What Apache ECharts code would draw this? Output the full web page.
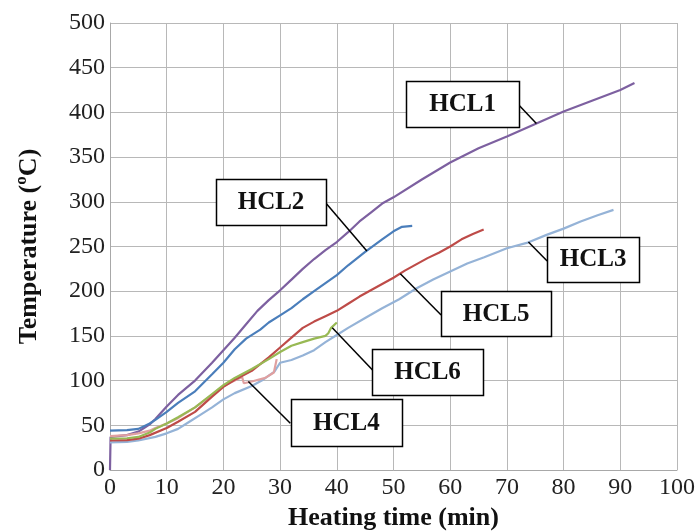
<!DOCTYPE html>
<html>
<head>
<meta charset="utf-8">
<script src="https://cdn.jsdelivr.net/npm/echarts@6/dist/echarts.min.js"></script>
<style>html,body{margin:0;padding:0;background:#fff;}#c{width:697px;height:531px;}</style>
</head>
<body>
<div id="c"></div>
<script>
const seriesNames = ['HCL1','HCL2','HCL3','HCL4','HCL5','HCL6'];
const xTicks = [0,10,20,30,40,50,60,70,80,90,100];
const yTicks = [0,50,100,150,200,250,300,350,400,450,500];

const hcl1 = [[0,0],[0.1,37],[3,39],[5,43],[6,47],[7,51],[8,57],[9,64],[10,71],[12,84],[15,100],[18,120],[20,134],[22,148],[24,163],[26,178],[28,190],[30,201],[32,213],[34,225],[36,236],[38,246],[40,255],[42,266],[44,278],[46,288],[48,298],[50,305],[55,325],[60,344],[65,360],[70,373],[75,387],[80,401],[85,413],[90,425],[92.5,433]];
const hcl2 = [[0,44],[3,44.5],[5,46],[7,52],[8,56],[10,65],[12,75],[15,88],[18,107],[20,120],[22,135],[24,147],[26.5,157],[28,165],[30,173],[32,181],[34,191],[36,200],[38,209],[40,218],[42,229],[45,244],[48,258],[50,267],[51.5,272],[53.3,273]];
const hcl3 = [[0,31],[3,31.5],[5,33],[8,37],[10,41],[12,46],[14,54],[16,62],[18,70],[20,79],[22,86],[25,94],[27,101],[29,110],[30,120],[32,123],[34,128],[36,134],[38,143],[40,151],[42,159],[45,170],[48,181],[51,191],[54,203],[57,213],[60,222],[63,231],[66,238],[70,248],[73.5,254],[77,263],[80,270],[83,278],[86,285],[88.8,291]];
const hcl4 = [[0,38],[3,39],[5,41],[7,44],[8,47],[10,52],[12,58],[15,70],[18,84],[20,94],[22,100],[23.3,104],[23.6,97],[25,99],[27.4,103],[28.9,109],[29.4,124]];
const hcl5 = [[0,33],[3,33.5],[5,35],[7,39],[10,47],[12,54],[15,65],[18,82],[20,93],[22,101],[25,111],[28,126],[30,137],[32,148],[34,159],[36,166],[38,172],[40,178],[42,186],[44,194],[46,201],[48,208],[50,215],[52,223],[54,230],[56,237],[58,243],[60,250],[62,258],[64,264],[65.9,269]];
const hcl6 = [[0,35],[3,35.5],[5,37],[7,42],[8,46],[10,52],[12,59],[15,70],[18,85],[20,95],[22,103],[25,113],[28,124],[30,132],[32,139],[34,143],[36,147],[38,150],[38.5,153],[39,159],[40,165]];

const seriesData = [hcl1,hcl2,hcl3,hcl4,hcl5,hcl6];
const colors = ['#7d60a0','#4a7ebb','#95b3d7','#e0a0a0','#be4b48','#98b954'];

// annotation layout (data coordinates)
const notes = [
  {t:'HCL1', c:[62.2,409.4], w:113, h:46, a:[72.1,408.3], b:[75.2,387.5]},
  {t:'HCL2', c:[28.4,299.8], w:110, h:46, a:[38.1,298.3], b:[45.3,245]},
  {t:'HCL5', c:[68.1,174.5], w:110, h:45, a:[51.2,219.5], b:[58.4,173.4]},
  {t:'HCL3', c:[85.2,236], w:92, h:45, a:[73.8,255], b:[77.1,233.8]},
  {t:'HCL6', c:[56,109.6], w:111, h:46, a:[39.2,159], b:[46.3,111.9]},
  {t:'HCL4', c:[41.7,52.6], w:111, h:47, a:[24.4,99], b:[31.8,52.2]}
];

const chart = echarts.init(document.getElementById('c'));
const serif = '"Liberation Serif","DejaVu Serif",serif';
chart.setOption({
  animation:false,
  grid:{left:110,right:20,top:23,bottom:61,containLabel:false,outerBoundsMode:'none'},
  xAxis:{type:'value',min:0,max:100,interval:10,
    name:'Heating time (min)',nameLocation:'middle',nameGap:32,
    nameTextStyle:{fontFamily:serif,fontWeight:'bold',fontSize:26,color:'#111'},
    axisLine:{lineStyle:{color:'#a8a8a8'}},axisTick:{show:false},
    axisLabel:{fontFamily:serif,fontSize:24,color:'#222',margin:6},
    splitLine:{lineStyle:{color:'#b8b8b8',width:1}}},
  yAxis:{type:'value',min:0,max:500,interval:50,
    name:'Temperature (ºC)',nameLocation:'middle',nameGap:68,
    nameTextStyle:{fontFamily:serif,fontWeight:'bold',fontSize:26,color:'#111'},
    axisLine:{show:true,lineStyle:{color:'#a8a8a8'}},axisTick:{show:false},
    axisLabel:{fontFamily:serif,fontSize:24,color:'#222',margin:5},
    splitLine:{lineStyle:{color:'#b8b8b8',width:1}}},
  series: seriesNames.map((n,i)=>({name:n,type:'line',data:seriesData[i],showSymbol:false,
    lineStyle:{color:colors[i],width:2.2},itemStyle:{color:colors[i]}}))
});

const g = [];
notes.forEach(n=>{
  const pa = chart.convertToPixel({gridIndex:0}, n.a);
  const pb = chart.convertToPixel({gridIndex:0}, n.b);
  const pc = chart.convertToPixel({gridIndex:0}, n.c);
  g.push({type:'line',shape:{x1:pa[0],y1:pa[1],x2:pb[0],y2:pb[1]},style:{stroke:'#000',lineWidth:1.5},z:100});
  g.push({type:'rect',shape:{x:Math.round(pc[0]-n.w/2)+0.5,y:Math.round(pc[1]-n.h/2)+0.5,width:n.w,height:n.h},style:{fill:'#fff',stroke:'#000',lineWidth:1.5},z:101});
  g.push({type:'text',x:pc[0],y:pc[1]+1,style:{text:n.t,fontFamily:serif,fontWeight:'bold',fontSize:25,fill:'#111',align:'center',verticalAlign:'middle'},z:102});
});
chart.setOption({graphic:g});
</script>
</body>
</html>
